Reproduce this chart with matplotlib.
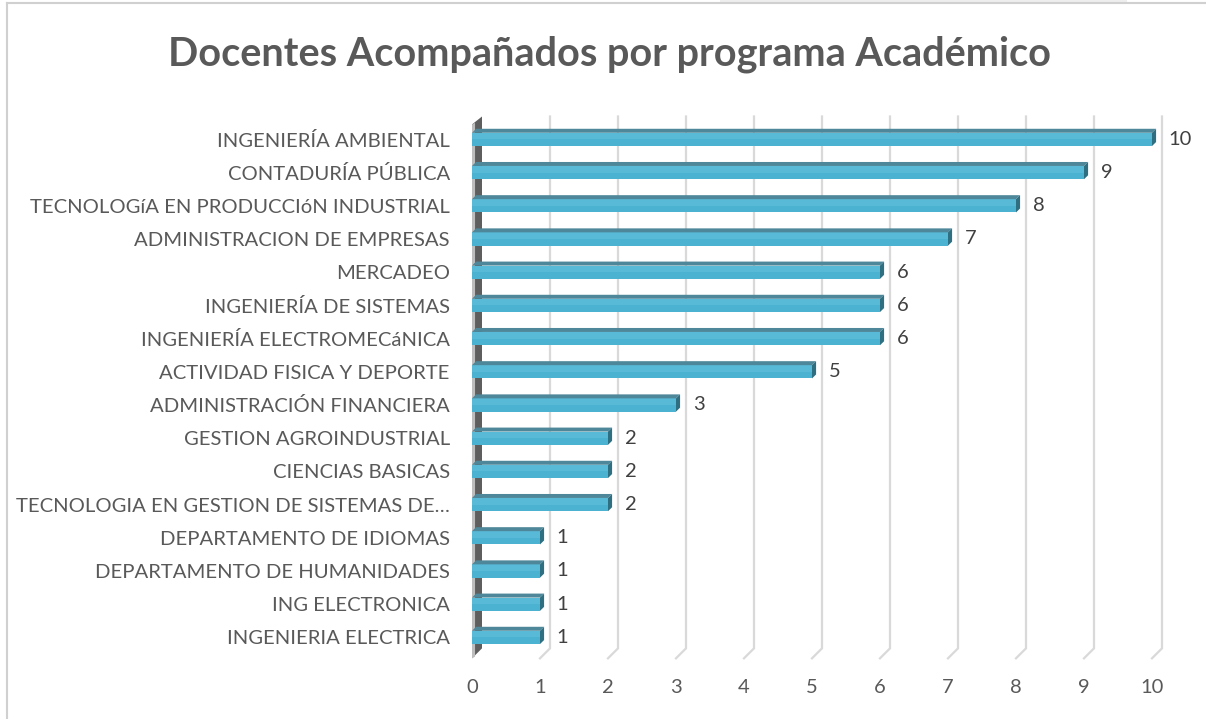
"""
Excel-style 3D horizontal bar chart: docentes acompañados por programa académico.
"""
import numpy as np
import matplotlib
matplotlib.use('Agg')
import matplotlib.pyplot as plt
from matplotlib.patches import Polygon, Rectangle

# data (top to bottom, as in the chart)
programas = [
    'INGENIERÍA AMBIENTAL',
    'CONTADURÍA PÚBLICA',
    'TECNOLOGíA EN PRODUCCIóN INDUSTRIAL',
    'ADMINISTRACION DE EMPRESAS',
    'MERCADEO',
    'INGENIERÍA DE SISTEMAS',
    'INGENIERÍA ELECTROMECáNICA',
    'ACTIVIDAD FISICA Y DEPORTE',
    'ADMINISTRACIÓN FINANCIERA',
    'GESTION AGROINDUSTRIAL',
    'CIENCIAS BASICAS',
    'TECNOLOGIA EN GESTION DE SISTEMAS DE…',
    'DEPARTAMENTO DE IDIOMAS',
    'DEPARTAMENTO DE HUMANIDADES',
    'ING ELECTRONICA',
    'INGENIERIA ELECTRICA',
]
docentes = [10, 9, 8, 7, 6, 6, 6, 5, 3, 2, 2, 2, 1, 1, 1, 1]
x_ticks = list(range(0, 11))

title = 'Docentes Acompañados por programa Académico'

plt.rcParams['font.family'] = ['Lato', 'DejaVu Sans']

FRONT = '#4cb2d1'
FRONT_LIGHT = '#62c0dc'
TOP = '#4d8799'
SIDE = '#2f6f82'
GRID = '#d9d9d9'
TXT = '#595959'

fig = plt.figure(figsize=(12.06, 7.19), dpi=100)
fig.patch.set_facecolor('white')

# chart border and the grey strip at the top
fig.add_artist(plt.Line2D([7 / 1206, 7 / 1206], [0, 1 - 3 / 719],
                          color='#d0d0d0', lw=1.5))
fig.add_artist(plt.Line2D([7 / 1206, 1], [1 - 3 / 719, 1 - 3 / 719],
                          color='#d0d0d0', lw=1.5))
fig.add_artist(Rectangle((720 / 1206, 1 - 3 / 719), 407 / 1206, 3 / 719,
                         transform=fig.transFigure, color='#eeeeee', lw=0))

ax = fig.add_axes([472 / 1206, 1 - 654 / 719, 680 / 1206, 531.2 / 719])
ax.set_xlim(0, 10)
ax.set_ylim(15.5, -0.5)
for s in ax.spines.values():
    s.set_visible(False)

y = np.arange(len(programas))
h = 0.4
DX, DY = 0.06, 0.12        # bar depth (data units)
GX, GY = 0.147, 0.30       # back wall offset

# gridlines on the back wall + floor stubs
for t in x_ticks[1:]:
    ax.plot([t + GX, t + GX, t], [-0.69, 15.33, 15.63], color=GRID, lw=1.6,
            clip_on=False, zorder=1, solid_joinstyle='miter')

# left wall
ax.add_patch(Polygon([(0, -0.45), (GX, -0.69), (GX, 15.33), (0, 15.63)],
                     closed=True, fc='#5e5e5e', ec='none', clip_on=False, zorder=2))
ax.add_patch(Polygon([(0, -0.45), (0.045, -0.5), (0.045, 15.58), (0, 15.63)],
                     closed=True, fc='#bdbdbd', ec='none', clip_on=False, zorder=2))

# bars
ax.barh(y, docentes, height=h, color=FRONT, edgecolor='none', zorder=3)
ax.barh(y - h / 4, docentes, height=h / 2, color=FRONT_LIGHT, edgecolor='none',
        zorder=3, alpha=0.6)
for yi, v in zip(y, docentes):
    top = yi - h / 2
    bot = yi + h / 2
    ax.add_patch(Polygon([(0, top), (v, top), (v + DX, top - DY), (DX, top - DY)],
                         closed=True, fc=TOP, ec='none', zorder=3, clip_on=False))
    ax.add_patch(Polygon([(v, top), (v + DX, top - DY), (v + DX, bot - DY), (v, bot)],
                         closed=True, fc=SIDE, ec='none', zorder=3, clip_on=False))
    ax.annotate(str(v), (v, yi), xytext=(12, 0), textcoords='offset points',
                ha='left', va='center', fontsize=14.5, color='#404040')

ax.set_xticks(x_ticks)
ax.set_yticks(y)
ax.set_yticklabels(programas)
ax.tick_params(axis='x', length=0, pad=18, labelsize=14.5, labelcolor=TXT)
ax.tick_params(axis='y', length=0, pad=16, labelsize=14.6, labelcolor=TXT)

fig.text(609 / 1206, 1 - 54 / 719, title, ha='center', va='center',
         fontsize=28.5, fontweight='bold', color=TXT)

fig.savefig('out.png', dpi=100)
